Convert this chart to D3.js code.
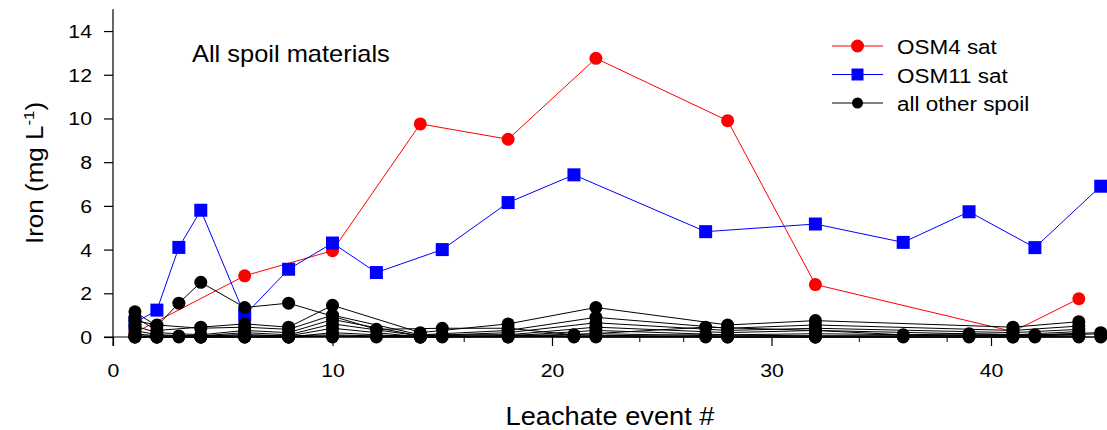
<!DOCTYPE html>
<html>
<head>
<meta charset="utf-8">
<script src="https://cdn.jsdelivr.net/npm/d3@7"></script>
<style>
  html, body { margin: 0; padding: 0; background: #fff; }
  svg { display: block; font-family: "Liberation Sans", Arial, sans-serif; }
</style>
</head>
<body>
<svg id="chart" width="1107" height="430"></svg>
<script>
// Leachate events for the saturated column (OSM11 sat and its companions)
const satEvents = [1, 2, 3, 4, 6, 8, 10, 12, 15, 18, 21, 27, 32, 36, 39, 42, 45];
// Leachate events for OSM4 sat and the remaining spoil columns
const unsatEvents = [1, 6, 10, 14, 18, 22, 28, 32, 41, 44];
const otherEvents = [1, 2, 4, 6, 8, 10, 14, 18, 22, 28, 32, 41, 44];

// Iron (mg/L)
const osm4Sat = [0.2, 2.8, 3.95, 9.75, 9.05, 12.75, 9.9, 2.4, 0.25, 1.75];
const osm11Sat = [0.65, 1.23, 4.1, 5.8, 1.0, 3.1, 4.3, 2.95, 4.0, 6.15, 7.42, 4.82, 5.17, 4.33, 5.73, 4.09, 6.9];

// all other spoil, sampled on satEvents (null = not sampled)
const spoilS1 = [1.15, 0.5, 1.55, 2.5, 1.35, 1.55, null, 0.35, 0.4, 0.4, 0.1, 0.45, 0.3, 0.1, 0.15, 0.1, 0.2];
const spoilS2 = [0.05, 0.05, 0.05, 0.05, 0.1, 0.05, 0.1, 0.05, 0.1, 0.1, 0.05, 0.1, 0.05, 0.05, 0.1, 0.05, 0.15];
const spoilS3 = [0, 0, 0, 0, 0, 0, 0.05, 0, 0, 0.05, 0, 0, 0, 0, 0, 0, 0];

// all other spoil, sampled on otherEvents
const spoilU1 = [0.9, 0.3, 0.45, 0.6, 0.45, 1.45, 0.2, 0.6, 1.35, 0.55, 0.75, 0.45, 0.7];
const spoilU2 = [0.75, 0.55, 0.4, 0.45, 0.35, 1.0, 0.1, 0.3, 0.9, 0.4, 0.55, 0.3, 0.5];
const spoilU3 = [0.5, 0.2, 0.1, 0.3, 0.2, 0.8, 0.05, 0.2, 0.65, 0.3, 0.4, 0.2, 0.35];
const spoilU4 = [0.3, 0.1, 0.05, 0.2, 0.1, 0.6, 0.05, 0.1, 0.45, 0.2, 0.3, 0.1, 0.25];
const spoilU5 = [0.15, 0.05, 0.05, 0.1, 0.05, 0.4, 0, 0.05, 0.3, 0.1, 0.15, 0.05, 0.15];
const spoilU6 = [0.05, 0, 0, 0.05, 0, 0.2, 0, 0.05, 0.15, 0.05, 0.05, 0.05, 0.1];
const spoilU7 = [0, 0, 0, 0, 0, 0.05, 0, 0, 0.05, 0, 0, 0, 0.05];
const spoilU8 = [0, 0, 0, 0, 0, 0, 0, 0, 0, 0, 0, 0, 0];

const xTicks = [0, 10, 20, 30, 40];
const xMinorTicks = d3.range(0, 51, 2);
const yTicks = [0, 2, 4, 6, 8, 10, 12, 14];

const legendLabels = ["OSM4 sat", "OSM11 sat", "all other spoil"];
const titleText = "All spoil materials";
const xTitle = "Leachate event #";

const RED = "#ff0000", BLUE = "#0000ff", BLACK = "#000000";

const svg = d3.select("#chart");

const x = d3.scaleLinear().domain([0, 50]).range([113, 1210.5]);
const y = d3.scaleLinear().domain([0, 15]).range([337, 9.2]);

// text drawn slightly wide, like the original plotting software's font
function wideText(parent, px, py, txt, size, sx, anchor) {
  return parent.append("text")
    .attr("transform", `translate(${px},${py}) scale(${sx},1)`)
    .attr("text-anchor", anchor || "start")
    .attr("font-size", size)
    .attr("fill", "#000")
    .text(txt);
}

const toPoints = (events, vals) =>
  events.map((e, i) => ({ x: e, y: vals[i] })).filter(d => d.y !== null);

const line = d3.line().x(d => x(d.x)).y(d => y(d.y));

// ---- axes ----
const yAxis = svg.append("g").attr("transform", `translate(${x(0)},0)`)
  .call(d3.axisLeft(y).tickValues(yTicks).tickSize(9).tickSizeOuter(0).tickFormat(""));
yAxis.select(".domain").attr("stroke", BLACK).attr("stroke-width", 1.2)
  .attr("d", `M0,${y(15)}V${y(0) + 9}`);
yAxis.selectAll(".tick line").attr("stroke-width", 1.2);
yAxis.selectAll(".tick text").remove();
yAxis.selectAll(".tick").each(function (d) {
  wideText(d3.select(this), -21, 6.5, d3.format("d")(d), 19, 1.12, "end");
});

const xAxis = svg.append("g").attr("transform", `translate(0,${y(0)})`)
  .call(d3.axisBottom(x).tickValues(xTicks).tickSize(9).tickSizeOuter(0).tickFormat(""));
xAxis.select(".domain").attr("stroke", BLACK).attr("stroke-width", 1.2)
  .attr("d", `M${x(0) - 9},0H${x(50)}`);
xAxis.selectAll(".tick line").attr("stroke-width", 1.2);
xAxis.selectAll(".tick text").remove();
xAxis.selectAll(".tick").each(function (d) {
  wideText(d3.select(this), 0, 40, d3.format("d")(d), 19, 1.12, "middle");
});
// minor ticks every 2 events
svg.append("g").selectAll("line")
  .data(xMinorTicks.filter(v => v % 10 !== 0))
  .join("line")
  .attr("x1", d => x(d)).attr("x2", d => x(d))
  .attr("y1", y(0)).attr("y2", y(0) + 5)
  .attr("stroke", BLACK).attr("stroke-width", 1);

// ---- axis titles and panel label ----
wideText(svg, 610, 425, xTitle, 25, 1.09, "middle");

const yt = svg.append("text")
  .attr("transform", `translate(43,244) rotate(-90) scale(1.13,1)`)
  .attr("font-size", 23).attr("fill", "#000");
yt.append("tspan").text("Iron (mg L");
yt.append("tspan").attr("font-size", 15).attr("dy", -9).text("-1");
yt.append("tspan").attr("dy", 9).text(")");

wideText(svg, 192, 62, titleText, 24, 1.06, "start");

// ---- series ----
const plot = svg.append("g");

// OSM4 sat
plot.append("path").datum(toPoints(unsatEvents, osm4Sat))
  .attr("d", line).attr("fill", "none").attr("stroke", RED).attr("stroke-width", 1);
plot.append("g").selectAll("circle").data(toPoints(unsatEvents, osm4Sat)).join("circle")
  .attr("cx", d => x(d.x)).attr("cy", d => y(d.y)).attr("r", 6.5).attr("fill", RED);

// OSM11 sat
plot.append("path").datum(toPoints(satEvents, osm11Sat))
  .attr("d", line).attr("fill", "none").attr("stroke", BLUE).attr("stroke-width", 1);
plot.append("g").selectAll("rect").data(toPoints(satEvents, osm11Sat)).join("rect")
  .attr("x", d => x(d.x) - 6.5).attr("y", d => y(d.y) - 6.5)
  .attr("width", 13).attr("height", 13).attr("fill", BLUE);

// all other spoil
const otherSeries = [
  ...[spoilS1, spoilS2, spoilS3].map(v => toPoints(satEvents, v)),
  ...[spoilU1, spoilU2, spoilU3, spoilU4, spoilU5, spoilU6, spoilU7, spoilU8].map(v => toPoints(otherEvents, v))
];
otherSeries.forEach(pts => {
  plot.append("path").datum(pts)
    .attr("d", line).attr("fill", "none").attr("stroke", BLACK).attr("stroke-width", 1);
});
otherSeries.forEach(pts => {
  plot.append("g").selectAll("circle").data(pts).join("circle")
    .attr("cx", d => x(d.x)).attr("cy", d => y(d.y)).attr("r", 6.5).attr("fill", BLACK);
});

// ---- legend ----
const legendRows = [
  { label: legendLabels[0], color: RED, shape: "circle", r: 6.5 },
  { label: legendLabels[1], color: BLUE, shape: "square", r: 6 },
  { label: legendLabels[2], color: BLACK, shape: "circle", r: 5.5 }
];
const legendY = d3.scalePoint().domain(legendLabels).range([46, 103]);
const lg = svg.append("g");
legendRows.forEach(row => {
  const cy = legendY(row.label);
  lg.append("line").attr("x1", 832).attr("x2", 883).attr("y1", cy).attr("y2", cy)
    .attr("stroke", row.color).attr("stroke-width", 1);
  if (row.shape === "circle") {
    lg.append("circle").attr("cx", 857.5).attr("cy", cy).attr("r", row.r).attr("fill", row.color);
  } else {
    lg.append("rect").attr("x", 857.5 - row.r).attr("y", cy - row.r)
      .attr("width", row.r * 2).attr("height", row.r * 2).attr("fill", row.color);
  }
  wideText(lg, 897, cy + 8, row.label, 21, 1.07, "start");
});
</script>
</body>
</html>
